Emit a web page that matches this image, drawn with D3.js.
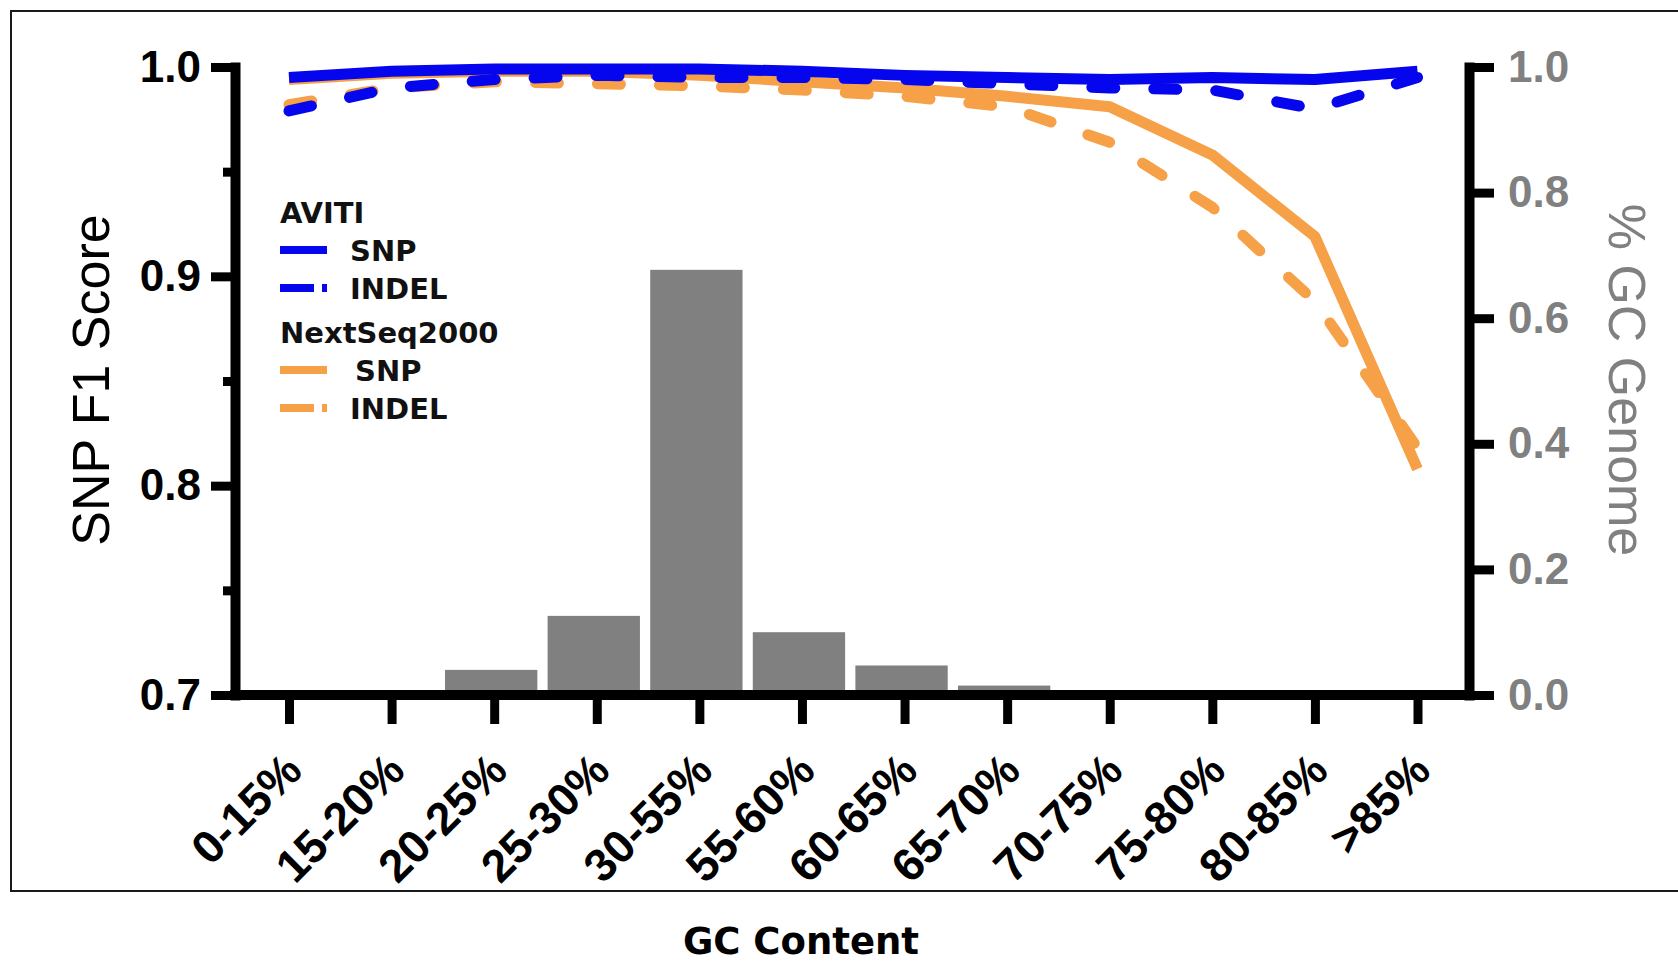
<!DOCTYPE html>
<html>
<head>
<meta charset="utf-8">
<script src="https://cdn.jsdelivr.net/npm/d3@7"></script>
<style>
  body { margin: 0; background: #fff; }
  svg { display: block; }
</style>
</head>
<body>
<div id="chart"></div>
<script>
// data
var categories = ["0-15%", "15-20%", "20-25%", "25-30%", "30-55%", "55-60%",
                  "60-65%", "65-70%", "70-75%", "75-80%", "80-85%", ">85%"];
var genomeFraction = [0, 0, 0.040, 0.126, 0.677, 0.100, 0.047, 0.015, 0, 0, 0, 0];
var avitiSnp     = [0.995, 0.998, 0.999, 0.999, 0.999, 0.998, 0.996, 0.995, 0.994, 0.995, 0.994, 0.998];
var avitiIndel   = [0.979, 0.990, 0.994, 0.996, 0.995, 0.995, 0.994, 0.992, 0.990, 0.989, 0.980, 0.995];
var nextseqSnp   = [0.994, 0.997, 0.998, 0.998, 0.996, 0.993, 0.990, 0.986, 0.981, 0.958, 0.919, 0.808];
var nextseqIndel = [0.982, 0.990, 0.993, 0.992, 0.991, 0.989, 0.986, 0.981, 0.964, 0.933, 0.888, 0.818];
var leftTicks = [0.7, 0.8, 0.9, 1.0];
var leftMinorTicks = [0.75, 0.85, 0.95];
var rightTicks = [0, 0.2, 0.4, 0.6, 0.8, 1.0];

var blue = "#0505ee", orange = "#f6a047", grey = "#808080";

var series = [
  {group: "AVITI", name: "SNP", values: avitiSnp, color: blue, dashed: false},
  {group: "AVITI", name: "INDEL", values: avitiIndel, color: blue, dashed: true},
  {group: "NextSeq2000", name: "SNP", values: nextseqSnp, color: orange, dashed: false},
  {group: "NextSeq2000", name: "INDEL", values: nextseqIndel, color: orange, dashed: true}
];

var width = 1678, height = 964;
var svg = d3.select("#chart").append("svg")
  .attr("width", width)
  .attr("height", height);

// frame round the figure
svg.append("rect")
  .attr("x", 11).attr("y", 11)
  .attr("width", 1700).attr("height", 880)
  .attr("fill", "none")
  .attr("stroke", "#1a1a1a")
  .attr("stroke-width", 2);

var axisLeftX = 235, axisRightX = 1469;
var x = d3.scalePoint().domain(categories).range([289, 1417.5]);
var xBand = d3.scaleBand().domain(categories)
  .range([289 - x.step() / 2, 1417.5 + x.step() / 2])
  .paddingInner(0.1).paddingOuter(0.05);
var yLeft = d3.scaleLinear().domain([0.7, 1.0]).range([695, 67]);
var yRight = d3.scaleLinear().domain([0, 1]).range([695, 67]);

// genome fraction bars (right axis)
svg.append("g").selectAll("rect")
  .data(genomeFraction)
  .join("rect")
    .attr("x", function(d, i){ return xBand(categories[i]) - 3; })
    .attr("width", xBand.bandwidth())
    .attr("y", function(d){ return yRight(d); })
    .attr("height", function(d){ return yRight(0) - yRight(d); })
    .attr("fill", grey);

// F1 lines, drawn orange first so blue sits on top
var line = d3.line()
  .x(function(d, i){ return x(categories[i]); })
  .y(function(d){ return yLeft(d); });

var drawOrder = [series[3], series[2], series[1], series[0]];
svg.append("g").selectAll("path")
  .data(drawOrder)
  .join("path")
    .attr("d", function(d){ return line(d.values); })
    .attr("fill", "none")
    .attr("stroke", function(d){ return d.color; })
    .attr("stroke-width", 11)
    .attr("stroke-linejoin", "round")
    .attr("stroke-linecap", function(d){ return d.dashed ? "round" : "butt"; })
    .attr("stroke-dasharray", function(d){ return d.dashed ? "23,39" : null; });

var tickFont = "'Liberation Sans', Arial, sans-serif";

// left axis
var gL = svg.append("g").attr("transform", "translate(" + axisLeftX + ",0)");
gL.call(d3.axisLeft(yLeft).tickValues(leftTicks).tickSize(24).tickSizeOuter(0)
  .tickPadding(10).tickFormat(d3.format(".1f")));
gL.append("g").call(d3.axisLeft(yLeft).tickValues(leftMinorTicks).tickSize(12).tickFormat(""))
  .select(".domain").remove();
gL.selectAll("text")
  .attr("font-family", tickFont).attr("font-weight", "bold")
  .attr("font-size", 44).attr("fill", "#000");

// right axis
var gR = svg.append("g").attr("transform", "translate(" + axisRightX + ",0)");
gR.call(d3.axisRight(yRight).tickValues(rightTicks).tickSize(25).tickSizeOuter(0)
  .tickPadding(14).tickFormat(d3.format(".1f")));
gR.selectAll("text")
  .attr("font-family", tickFont).attr("font-weight", "bold")
  .attr("font-size", 44).attr("fill", grey);

// bottom axis
var gX = svg.append("g").attr("transform", "translate(0," + yLeft(0.7) + ")");
gX.call(d3.axisBottom(x).tickSize(29).tickSizeOuter(0));
gX.select(".domain").remove();
gX.append("line")
  .attr("x1", axisLeftX).attr("x2", axisRightX)
  .attr("stroke", "#000").attr("stroke-width", 10).attr("stroke-linecap", "square");
gX.selectAll(".tick text")
  .attr("y", 0).attr("dy", 0)
  .attr("text-anchor", "end")
  .attr("transform", "translate(15,78) rotate(-45)")
  .attr("font-family", tickFont).attr("font-weight", "bold")
  .attr("font-size", 46).attr("fill", "#000");

[gL, gR, gX].forEach(function(g){
  g.selectAll(".domain").attr("stroke", "#000").attr("stroke-width", 10).attr("stroke-linecap", "square");
  g.selectAll(".tick line").attr("stroke", "#000").attr("stroke-width", 9);
});

// axis titles
svg.append("text")
  .attr("transform", "translate(109,380) rotate(-90)")
  .attr("text-anchor", "middle")
  .attr("font-family", tickFont).attr("font-size", 52)
  .attr("fill", "#000")
  .text("SNP F1 Score");

svg.append("text")
  .attr("transform", "translate(1609,380) rotate(90)")
  .attr("text-anchor", "middle")
  .attr("font-family", tickFont).attr("font-size", 52)
  .attr("fill", grey)
  .text("% GC Genome");

var titleFont = "'DejaVu Sans', sans-serif";
svg.append("text")
  .attr("x", 801).attr("y", 954)
  .attr("text-anchor", "middle")
  .attr("font-family", titleFont).attr("font-weight", "bold").attr("font-size", 37)
  .attr("fill", "#000")
  .text("GC Content");

// legend
var legend = svg.append("g").attr("transform", "translate(280,0)")
  .attr("font-family", titleFont).attr("font-weight", "bold").attr("font-size", 29).attr("fill", "#111");
var groups = ["AVITI", "NextSeq2000"];
var groupTop = [223, 343];
groups.forEach(function(name, gi){
  legend.append("text").attr("x", 0).attr("y", groupTop[gi]).text(name);
  series.filter(function(s){ return s.group === name; }).forEach(function(s, si){
    var ly = groupTop[gi] + 27 + si * 38;
    legend.append("line")
      .attr("x1", 0).attr("x2", 47).attr("y1", ly).attr("y2", ly)
      .attr("stroke", s.color).attr("stroke-width", 8)
      .attr("stroke-dasharray", s.dashed ? "34,8,6,20" : null);
    legend.append("text")
      .attr("x", s.name === "SNP" && gi === 1 ? 75 : 70)
      .attr("y", ly + 11)
      .text(s.name);
  });
});
</script>
</body>
</html>
